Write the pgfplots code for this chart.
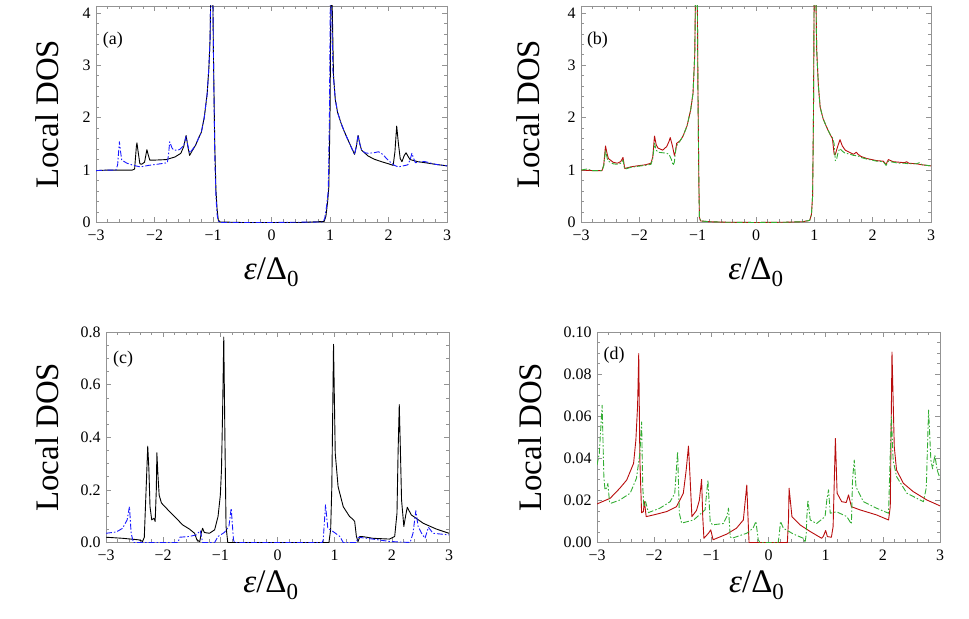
\documentclass[border=0pt]{standalone}
\usepackage{fontspec}
\setmainfont{Liberation Serif}
\usepackage{pgfplots}
\pgfplotsset{compat=1.18}
\definecolor{myred}{rgb}{0.72,0.05,0.05}
\definecolor{mygreen}{rgb}{0.2,0.68,0.2}
\definecolor{myblue}{rgb}{0.1,0.1,1}
\pgfplotsset{
  dosaxis/.style={scale only axis, xmin=-3, xmax=3, ymin=0,
    xtick={-3,-2,-1,0,1,2,3}, xticklabels={−3,−2,−1,0,1,2,3},
    minor x tick num=4,
    tick align=inside, major tick length=5bp, minor tick length=3bp,
    axis line style={gray!85, line width=0.6bp},
    tick style={gray!85, line width=0.5bp},
    /pgf/number format/assume math mode=true,
    tick label style={font=\fontsize{16}{16}\selectfont, text=black},
    xticklabel style={yshift=-4bp},
    yticklabel style={xshift=-2bp},
    label style={font=\fontsize{33}{36}\selectfont},
    xlabel={\textit{ε}/Δ\textsubscript{0}},
    ylabel={Local DOS},
  },
  sl/.style={line width=0.9bp, line join=round},
  dd/.style={line width=0.9bp, line join=round, dash pattern=on 6bp off 2bp on 1.5bp off 2bp},
}
\begin{document}
\begin{tikzpicture}
\useasboundingbox (0,0) rectangle (969bp,619bp);
% (a)
\begin{axis}[dosaxis, at={(96bp,396.5bp)}, anchor=south west, width=351bp, height=216.5bp,
  ymax=4.13, ytick={0,1,2,3,4}, yticklabels={0,1,2,3,4}, minor y tick num=4,
  xlabel style={at={(axis description cs:0.5,-0.229)}, anchor=center},
  ylabel style={at={(axis description cs:-0.14,0.5)}, anchor=center}]
\addplot[sl, black] coordinates {(-3,0.99) (-2.8,1.0) (-2.5,1.0) (-2.38,1.0) (-2.34,1.02) (-2.31,1.45) (-2.30,1.52) (-2.28,1.35) (-2.25,1.12) (-2.22,1.11) (-2.17,1.15) (-2.13,1.39) (-2.11,1.30) (-2.08,1.19) (-2.0,1.19) (-1.8,1.20) (-1.65,1.25) (-1.55,1.32) (-1.50,1.45) (-1.46,1.66) (-1.43,1.45) (-1.40,1.28) (-1.36,1.36) (-1.30,1.47) (-1.25,1.60) (-1.20,1.72) (-1.15,2.0) (-1.10,2.45) (-1.07,2.96) (-1.05,3.5) (-1.03,5) (-1.01,5) (-0.99,3.0) (-0.97,1.5) (-0.95,0.62) (-0.93,0.25) (-0.91,0.05) (-0.88,0.01) (-0.5,0) (0,0) (0.5,0) (0.90,0.02) (0.93,0.12) (0.96,0.4) (0.98,0.68) (1.0,2.0) (1.02,5) (1.04,4) (1.06,2.8) (1.09,2.35) (1.13,2.1) (1.19,1.89) (1.25,1.72) (1.31,1.57) (1.37,1.42) (1.42,1.30) (1.45,1.45) (1.48,1.66) (1.51,1.50) (1.54,1.38) (1.60,1.32) (1.65,1.27) (1.75,1.21) (1.88,1.16) (2.0,1.12) (2.08,1.09) (2.11,1.35) (2.14,1.84) (2.17,1.50) (2.20,1.22) (2.23,1.16) (2.27,1.28) (2.30,1.33) (2.34,1.25) (2.37,1.20) (2.5,1.16) (2.63,1.14) (2.8,1.11) (3.0,1.08)};
\addplot[dd, myblue] coordinates {(-3,0.99) (-2.8,1.0) (-2.66,1.0) (-2.63,1.1) (-2.60,1.54) (-2.58,1.35) (-2.56,1.19) (-2.47,1.13) (-2.36,1.09) (-2.24,1.06) (-2.1,1.09) (-1.96,1.11) (-1.78,1.14) (-1.76,1.3) (-1.74,1.54) (-1.70,1.42) (-1.67,1.38) (-1.60,1.38) (-1.56,1.40) (-1.50,1.47) (-1.46,1.64) (-1.43,1.47) (-1.40,1.33) (-1.36,1.38) (-1.30,1.47) (-1.25,1.60) (-1.20,1.72) (-1.15,2.0) (-1.10,2.45) (-1.07,2.96) (-1.05,3.5) (-1.03,5) (-1.01,5) (-0.99,3.0) (-0.97,1.3) (-0.95,0.5) (-0.93,0.15) (-0.91,0.03) (-0.88,0.0) (0,0) (0.88,0.01) (0.91,0.08) (0.94,0.3) (0.97,0.6) (0.99,2.0) (1.01,5) (1.03,4) (1.05,2.9) (1.09,2.35) (1.13,2.1) (1.19,1.89) (1.25,1.72) (1.31,1.57) (1.37,1.42) (1.42,1.30) (1.45,1.45) (1.48,1.66) (1.51,1.50) (1.54,1.38) (1.60,1.33) (1.65,1.32) (1.75,1.33) (1.83,1.35) (1.90,1.30) (2.0,1.18) (2.10,1.09) (2.17,1.06) (2.25,1.08) (2.33,1.10) (2.37,1.20) (2.40,1.32) (2.43,1.22) (2.46,1.14) (2.55,1.16) (2.63,1.16) (2.8,1.11) (3.0,1.08)};
\node[font=\fontsize{18}{18}\selectfont] at (rel axis cs:0.048,0.843) {(a)};
\end{axis}
% (b)
\begin{axis}[dosaxis, at={(581bp,396.5bp)}, anchor=south west, width=350bp, height=216.5bp,
  ymax=4.13, ytick={0,1,2,3,4}, yticklabels={0,1,2,3,4}, minor y tick num=4,
  xlabel style={at={(axis description cs:0.5,-0.229)}, anchor=center},
  ylabel style={at={(axis description cs:-0.151,0.5)}, anchor=center}]
\addplot[sl, myred] coordinates {(-3,1.0) (-2.8,0.99) (-2.64,0.99) (-2.61,1.10) (-2.58,1.46) (-2.55,1.30) (-2.53,1.22) (-2.45,1.15) (-2.38,1.13) (-2.32,1.16) (-2.28,1.24) (-2.26,1.10) (-2.25,1.03) (-2.15,1.06) (-2.04,1.08) (-1.90,1.10) (-1.80,1.13) (-1.77,1.25) (-1.74,1.65) (-1.71,1.48) (-1.68,1.42) (-1.60,1.38) (-1.53,1.45) (-1.49,1.55) (-1.47,1.62) (-1.43,1.45) (-1.40,1.28) (-1.38,1.35) (-1.36,1.51) (-1.30,1.56) (-1.25,1.65) (-1.18,1.85) (-1.12,2.15) (-1.08,2.46) (-1.05,3.2) (-1.03,5) (-1.01,5) (-0.995,2.5) (-0.98,0.8) (-0.97,0.1) (-0.95,0.03) (-0.8,0.015) (-0.5,0.005) (0,0) (0.5,0.005) (0.8,0.015) (0.92,0.04) (0.95,0.15) (0.97,0.5) (0.985,2.0) (1.0,5) (1.02,5) (1.04,3.3) (1.07,2.6) (1.10,2.2) (1.15,1.98) (1.21,1.82) (1.27,1.68) (1.31,1.60) (1.34,1.30) (1.36,1.30) (1.40,1.45) (1.44,1.58) (1.48,1.46) (1.53,1.38) (1.60,1.34) (1.67,1.30) (1.72,1.34) (1.75,1.30) (1.80,1.26) (1.9,1.22) (2.07,1.18) (2.18,1.17) (2.20,1.15) (2.23,1.10) (2.25,1.16) (2.27,1.20) (2.35,1.16) (2.45,1.15) (2.55,1.14) (2.58,1.16) (2.62,1.13) (2.75,1.12) (2.85,1.10) (3.0,1.08)};
\addplot[dd, mygreen] coordinates {(-3,1.0) (-2.9,1.02) (-2.8,0.99) (-2.64,0.99) (-2.61,1.08) (-2.58,1.38) (-2.55,1.22) (-2.53,1.17) (-2.45,1.12) (-2.38,1.11) (-2.32,1.13) (-2.28,1.19) (-2.26,1.06) (-2.24,1.02) (-2.15,1.05) (-2.04,1.07) (-1.90,1.09) (-1.80,1.11) (-1.77,1.22) (-1.74,1.51) (-1.71,1.38) (-1.68,1.34) (-1.60,1.33) (-1.53,1.32) (-1.49,1.30) (-1.45,1.20) (-1.42,1.09) (-1.40,1.15) (-1.37,1.45) (-1.30,1.56) (-1.25,1.65) (-1.18,1.85) (-1.12,2.15) (-1.08,2.46) (-1.05,3.2) (-1.03,5) (-1.01,5) (-0.995,2.5) (-0.98,0.8) (-0.97,0.1) (-0.95,0.03) (-0.8,0.015) (-0.5,0.005) (0,0) (0.5,0.005) (0.8,0.015) (0.92,0.04) (0.95,0.15) (0.97,0.5) (0.985,2.0) (1.0,5) (1.02,5) (1.04,3.3) (1.07,2.6) (1.10,2.2) (1.15,1.98) (1.21,1.82) (1.27,1.68) (1.31,1.62) (1.34,1.50) (1.36,1.18) (1.38,1.20) (1.41,1.35) (1.44,1.41) (1.48,1.36) (1.53,1.32) (1.60,1.31) (1.67,1.28) (1.75,1.27) (1.80,1.24) (1.9,1.21) (2.07,1.17) (2.18,1.16) (2.21,1.12) (2.23,1.09) (2.27,1.17) (2.35,1.15) (2.45,1.13) (2.55,1.13) (2.62,1.12) (2.75,1.12) (2.80,1.14) (2.85,1.10) (3.0,1.08)};
\node[font=\fontsize{18}{18}\selectfont] at (rel axis cs:0.047,0.843) {(b)};
\end{axis}
% (c)
\begin{axis}[dosaxis, at={(106bp,76.5bp)}, anchor=south west, width=343bp, height=210.5bp,
  ymax=0.8, ytick={0,0.2,0.4,0.6,0.8}, yticklabels={0.0,0.2,0.4,0.6,0.8}, minor y tick num=3,
  xlabel style={at={(axis description cs:0.481,-0.202)}, anchor=center},
  ylabel style={at={(axis description cs:-0.172,0.5)}, anchor=center}]
\addplot[sl, black] coordinates {(-3,0.020) (-2.71,0.016) (-2.42,0.010) (-2.36,0.004) (-2.33,0.02) (-2.29,0.25) (-2.27,0.366) (-2.25,0.28) (-2.23,0.136) (-2.20,0.086) (-2.16,0.092) (-2.14,0.080) (-2.12,0.2) (-2.11,0.341) (-2.09,0.25) (-2.07,0.18) (-2.03,0.15) (-1.89,0.118) (-1.77,0.092) (-1.66,0.067) (-1.54,0.051) (-1.45,0.035) (-1.41,0.010) (-1.36,0.003) (-1.33,0.04) (-1.31,0.054) (-1.28,0.038) (-1.19,0.035) (-1.10,0.048) (-1.04,0.099) (-1.0,0.18) (-0.98,0.276) (-0.96,0.5) (-0.94,0.781) (-0.92,0.4) (-0.90,0.061) (-0.87,0.0) (0,0) (0.90,0) (0.93,0.05) (0.95,0.21) (0.98,0.753) (1.01,0.339) (1.06,0.212) (1.15,0.136) (1.26,0.099) (1.32,0.088) (1.35,0.080) (1.38,0.023) (1.41,0.004) (1.44,0.023) (1.50,0.022) (1.67,0.016) (1.96,0.013) (2.05,0.023) (2.09,0.111) (2.11,0.35) (2.13,0.524) (2.15,0.35) (2.17,0.162) (2.21,0.061) (2.24,0.10) (2.27,0.134) (2.34,0.105) (2.55,0.073) (2.78,0.051) (3.0,0.035)};
\addplot[dd, myblue] coordinates {(-3,0.035) (-2.82,0.040) (-2.71,0.054) (-2.63,0.086) (-2.59,0.136) (-2.56,0.035) (-2.52,0) (-1.74,0) (-1.71,0.020) (-1.54,0.023) (-1.42,0.029) (-1.35,0.045) (-1.31,0) (-1.10,0) (-1.04,0.023) (-0.93,0.038) (-0.85,0.061) (-0.81,0.130) (-0.77,0.01) (-0.75,0) (0.78,0) (0.80,0.01) (0.84,0.143) (0.88,0.054) (0.97,0.042) (1.09,0.023) (1.15,0) (1.38,0) (1.41,0.02) (1.67,0.013) (1.96,0.004) (2.32,0) (2.37,0.035) (2.42,0.121) (2.46,0.061) (2.52,0.035) (2.58,0.016) (2.64,0.058) (2.72,0.035) (3.0,0.029)};
\node[font=\fontsize{18}{18}\selectfont] at (rel axis cs:0.05,0.87) {(c)};
\end{axis}
% (d)
\begin{axis}[dosaxis, at={(597bp,76.5bp)}, anchor=south west, width=343bp, height=210.5bp,
  ymax=0.1, ytick={0,0.02,0.04,0.06,0.08,0.1}, yticklabels={0.00,0.02,0.04,0.06,0.08,0.10}, minor y tick num=3,
  xlabel style={at={(axis description cs:0.466,-0.202)}, anchor=center},
  ylabel style={at={(axis description cs:-0.195,0.5)}, anchor=center}]
\addplot[sl, myred] coordinates {(-3,0.0183) (-2.77,0.021) (-2.60,0.0258) (-2.48,0.0297) (-2.36,0.0376) (-2.32,0.0487) (-2.29,0.065) (-2.27,0.0897) (-2.25,0.039) (-2.22,0.0142) (-2.19,0.0146) (-2.17,0.0194) (-2.14,0.0123) (-2.01,0.0131) (-1.78,0.0147) (-1.61,0.017) (-1.49,0.0234) (-1.44,0.0344) (-1.40,0.0458) (-1.37,0.0297) (-1.34,0.0123) (-1.26,0.0152) (-1.21,0.020) (-1.17,0.030) (-1.15,0.012) (-1.13,0.002) (-1.05,0.0044) (-1.01,0.006) (-0.97,0.0013) (-0.73,0.004) (-0.56,0.0068) (-0.44,0.0107) (-0.38,0.0273) (-0.35,0.006) (-0.34,0) (0.33,0) (0.35,0.011) (0.36,0.0258) (0.41,0.0123) (0.55,0.0084) (0.73,0.0052) (0.93,0.002) (0.96,0.003) (1.0,0.0057) (1.03,0.0028) (1.10,0.0025) (1.13,0.0075) (1.17,0.0494) (1.20,0.0234) (1.28,0.0194) (1.36,0.019) (1.40,0.0226) (1.45,0.017) (1.60,0.0155) (1.89,0.0131) (2.10,0.0107) (2.13,0.017) (2.16,0.0905) (2.20,0.0455) (2.24,0.0344) (2.36,0.0281) (2.53,0.0242) (2.77,0.0202) (3.0,0.0174)};
\addplot[dd, mygreen] coordinates {(-3,0.0368) (-2.96,0.0423) (-2.91,0.0652) (-2.88,0.0313) (-2.86,0.025) (-2.83,0.026) (-2.81,0.028) (-2.78,0.019) (-2.76,0.0186) (-2.60,0.0202) (-2.42,0.0234) (-2.31,0.0305) (-2.25,0.0423) (-2.22,0.0573) (-2.20,0.0265) (-2.18,0.017) (-2.15,0.0194) (-2.10,0.0142) (-1.90,0.0163) (-1.72,0.0194) (-1.64,0.0234) (-1.59,0.0431) (-1.56,0.014) (-1.52,0.0092) (-1.31,0.0107) (-1.11,0.0155) (-1.06,0.0297) (-1.02,0.010) (-0.98,0.0084) (-0.79,0.009) (-0.73,0.0123) (-0.70,0.0163) (-0.67,0.0028) (-0.64,0.002) (-0.38,0.0044) (-0.27,0.0068) (-0.22,0.010) (-0.18,0.0013) (-0.15,0) (0.17,0) (0.19,0.0044) (0.21,0.010) (0.26,0.0068) (0.43,0.0041) (0.61,0.002) (0.64,0) (0.66,0.004) (0.67,0.012) (0.69,0.0202) (0.73,0.0107) (0.84,0.009) (0.99,0.0123) (1.02,0.0202) (1.05,0.025) (1.08,0.0139) (1.19,0.0146) (1.37,0.0123) (1.45,0.0088) (1.47,0.03) (1.50,0.0392) (1.53,0.0265) (1.66,0.0194) (1.89,0.0163) (2.10,0.0139) (2.13,0.0423) (2.15,0.0597) (2.18,0.0392) (2.24,0.0313) (2.42,0.0234) (2.71,0.0194) (2.76,0.026) (2.80,0.0629) (2.84,0.0392) (2.87,0.035) (2.91,0.0415) (2.95,0.0344) (3.0,0.0305)};
\node[font=\fontsize{18}{18}\selectfont] at (rel axis cs:0.05,0.89) {(d)};
\end{axis}
\end{tikzpicture}
\end{document}
